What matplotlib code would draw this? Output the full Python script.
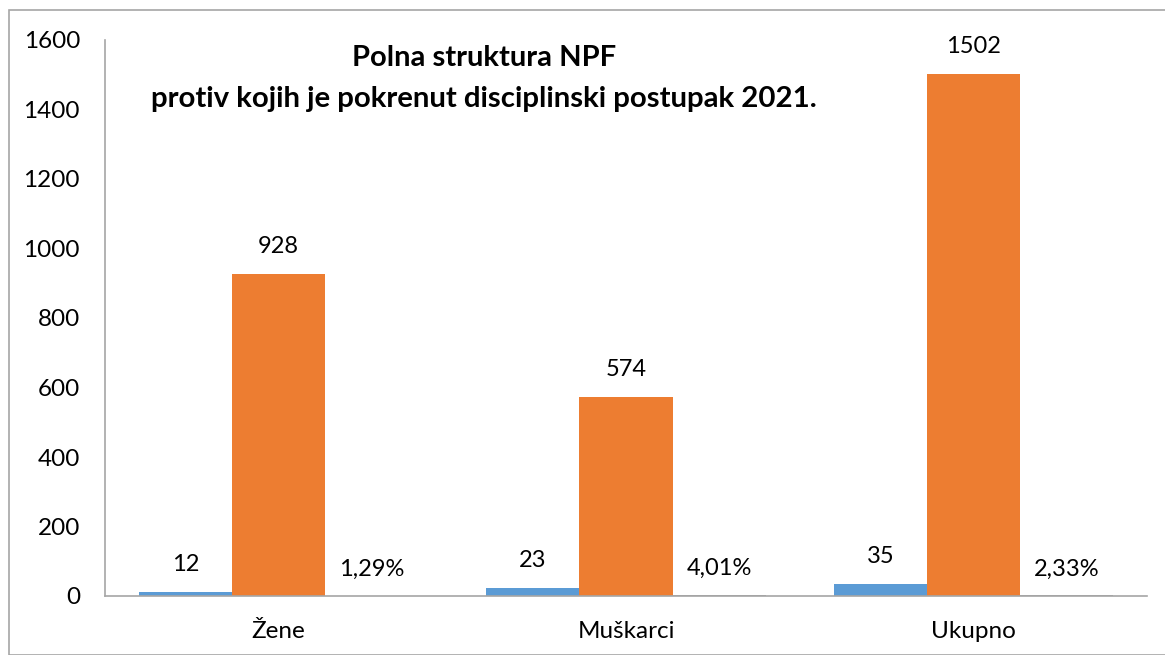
import matplotlib.pyplot as plt
import numpy as np
from matplotlib.patches import Rectangle

plt.rcParams['font.family'] = ['Lato', 'DejaVu Sans']

# Data
categories = ['Žene', 'Muškarci', 'Ukupno']
disciplinski = [12, 23, 35]
ukupno_npf = [928, 574, 1502]
procenat = [1.29, 4.01, 2.33]
procenat_labels = ['1,29%', '4,01%', '2,33%']

title_lines = ['Polna struktura NPF', 'protiv kojih je pokrenut disciplinski postupak 2021.']

fig = plt.figure(figsize=(11.65, 6.55), dpi=100)
ax = fig.add_axes([105 / 1165, 59 / 655, 1042 / 1165, 556 / 655])

x = np.arange(len(categories))
w = 0.268

b1 = ax.bar(x - w, disciplinski, w, color='#5B9BD5')
b2 = ax.bar(x, ukupno_npf, w, color='#ED7D31')
b3 = ax.bar(x + w, procenat, w, color='#A5A5A5')

for rect, v in zip(b1, disciplinski):
    ax.annotate(str(v), (rect.get_x() + rect.get_width() / 2, rect.get_height()),
                xytext=(0, 12), textcoords='offset points', ha='center', va='bottom', fontsize=17)
for rect, v in zip(b2, ukupno_npf):
    ax.annotate(str(v), (rect.get_x() + rect.get_width() / 2, rect.get_height()),
                xytext=(0, 12), textcoords='offset points', ha='center', va='bottom', fontsize=17)
for rect, lab in zip(b3, procenat_labels):
    ax.annotate(lab, (rect.get_x() + rect.get_width() / 2, rect.get_height()),
                xytext=(0, 11), textcoords='offset points', ha='center', va='bottom', fontsize=17)

ax.set_xlim(-0.5, 2.5)
ax.set_ylim(0, 1600)
ax.set_yticks(np.arange(0, 1601, 200))
ax.set_xticks(x)
ax.set_xticklabels(categories)
ax.tick_params(axis='both', length=0, labelsize=17.5)
ax.tick_params(axis='y', pad=18)
ax.tick_params(axis='x', pad=18)

for side in ['top', 'right']:
    ax.spines[side].set_visible(False)
for side in ['left', 'bottom']:
    ax.spines[side].set_color('#A6A6A6')
    ax.spines[side].set_linewidth(1.2)

ax.text(0.364, 0.968, title_lines[0], transform=ax.transAxes, ha='center', va='center',
        fontsize=21, fontweight='bold')
ax.text(0.364, 0.893, title_lines[1], transform=ax.transAxes, ha='center', va='center',
        fontsize=21.2, fontweight='bold')

# outer chart border
fig.patches.append(Rectangle((9 / 1165, 0), 1.2, 1 - 10 / 655, transform=fig.transFigure,
                             fill=False, edgecolor='#A6A6A6', linewidth=1.2))

fig.savefig('out.png', dpi=100, facecolor='white')
